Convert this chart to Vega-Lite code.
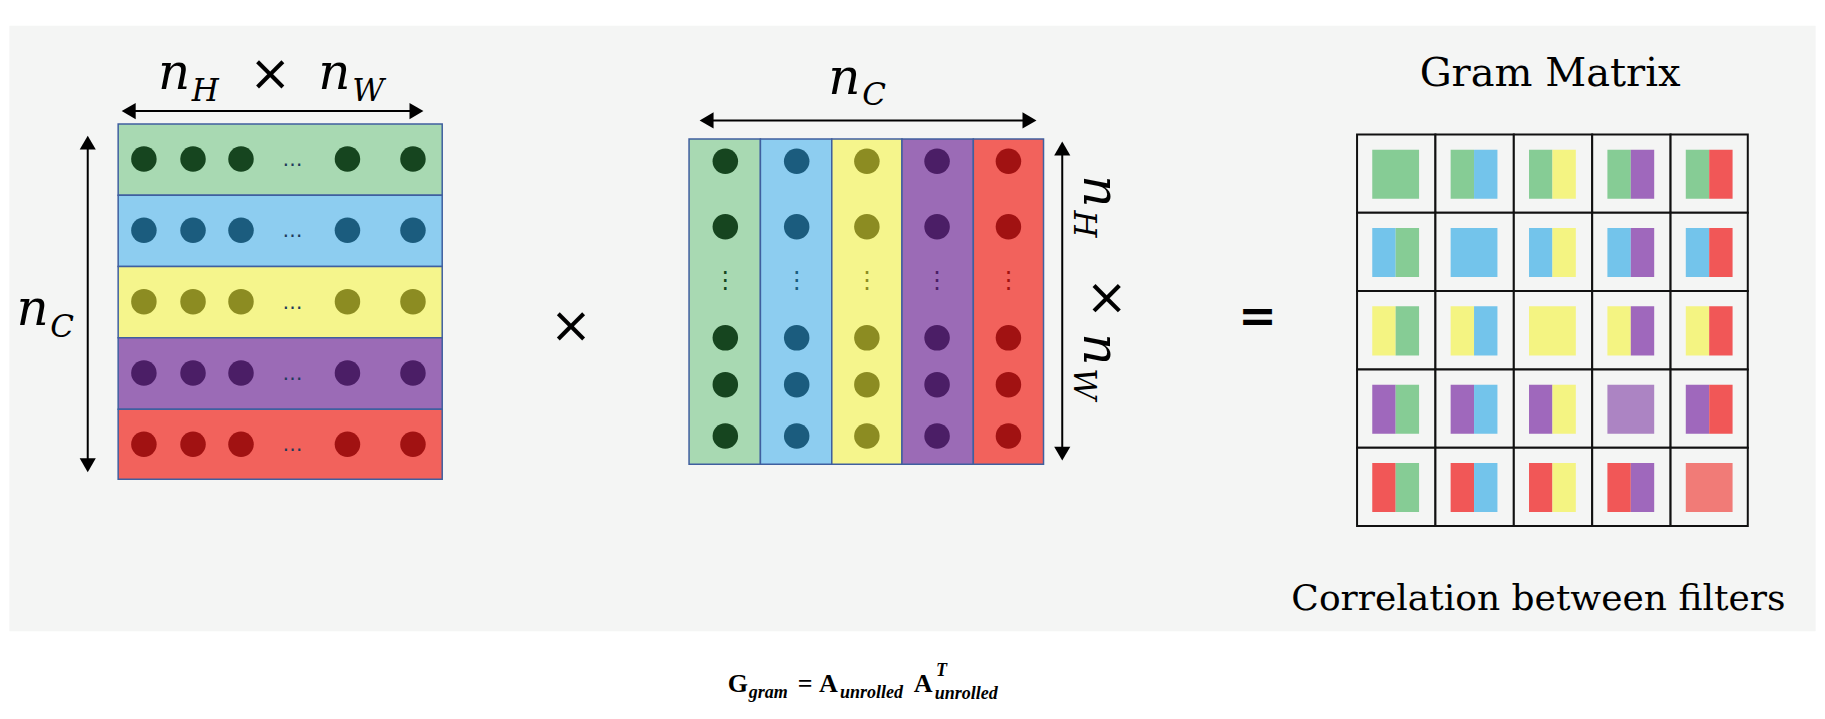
{
"$schema":"https://vega.github.io/schema/vega-lite/v6.json",
"width":1825,"height":719,"autosize":{"type":"fit","contains":"padding"},"padding":0,
"background":"white","config":{"view":{"stroke":null}},
"resolve":{"scale":{"fill":"independent","color":"independent","stroke":"independent","strokeWidth":"independent","shape":"independent"}},
"encoding":{
 "x":{"field":"x","type":"quantitative","scale":{"domain":[0,1560],"nice":false,"zero":false},"axis":null},
 "y":{"field":"y","type":"quantitative","scale":{"domain":[0,615],"nice":false,"zero":false,"reverse":true},"axis":null}
},
"layer":[
{"data":{"values":[{"x":8,"x2":1552,"y":22,"y2":540}]},"mark":{"type":"rect","fill":"#f4f5f4"},"encoding":{"x2":{"field":"x2"},"y2":{"field":"y2"}}},
{"data":{"values":[
 {"c":"green","x":101,"x2":378,"y":106,"y2":167},
 {"c":"blue","x":101,"x2":378,"y":167,"y2":228},
 {"c":"yellow","x":101,"x2":378,"y":228,"y2":289},
 {"c":"purple","x":101,"x2":378,"y":289,"y2":350},
 {"c":"red","x":101,"x2":378,"y":350,"y2":410},
 {"c":"green","x":589,"x2":650,"y":119,"y2":397},
 {"c":"blue","x":650,"x2":711,"y":119,"y2":397},
 {"c":"yellow","x":711,"x2":771,"y":119,"y2":397},
 {"c":"purple","x":771,"x2":832,"y":119,"y2":397},
 {"c":"red","x":832,"x2":892,"y":119,"y2":397}
]},"mark":{"type":"rect","stroke":"#3f5f9f","strokeWidth":1.5},
 "encoding":{"x2":{"field":"x2"},"y2":{"field":"y2"},
 "fill":{"field":"c","type":"nominal","legend":null,"scale":{"domain":["green","blue","yellow","purple","red"],"range":["#a8d9b2","#8dcdf0","#f5f58c","#9b6bb6","#f2625c"]}}}},
{"data":{"values":[
 {"x":1160,"x2":1227,"y":115,"y2":182},{"x":1227,"x2":1294,"y":115,"y2":182},{"x":1294,"x2":1361,"y":115,"y2":182},{"x":1361,"x2":1428,"y":115,"y2":182},{"x":1428,"x2":1494,"y":115,"y2":182},
 {"x":1160,"x2":1227,"y":182,"y2":249},{"x":1227,"x2":1294,"y":182,"y2":249},{"x":1294,"x2":1361,"y":182,"y2":249},{"x":1361,"x2":1428,"y":182,"y2":249},{"x":1428,"x2":1494,"y":182,"y2":249},
 {"x":1160,"x2":1227,"y":249,"y2":316},{"x":1227,"x2":1294,"y":249,"y2":316},{"x":1294,"x2":1361,"y":249,"y2":316},{"x":1361,"x2":1428,"y":249,"y2":316},{"x":1428,"x2":1494,"y":249,"y2":316},
 {"x":1160,"x2":1227,"y":316,"y2":383},{"x":1227,"x2":1294,"y":316,"y2":383},{"x":1294,"x2":1361,"y":316,"y2":383},{"x":1361,"x2":1428,"y":316,"y2":383},{"x":1428,"x2":1494,"y":316,"y2":383},
 {"x":1160,"x2":1227,"y":383,"y2":450},{"x":1227,"x2":1294,"y":383,"y2":450},{"x":1294,"x2":1361,"y":383,"y2":450},{"x":1361,"x2":1428,"y":383,"y2":450},{"x":1428,"x2":1494,"y":383,"y2":450}
]},"mark":{"type":"rect","fill":"#f4f5f4","stroke":"#111111","strokeWidth":2},
 "encoding":{"x2":{"field":"x2"},"y2":{"field":"y2"}}},
{"data":{"values":[
 {"c":"g","x":1173,"x2":1213,"y":128,"y2":170},
 {"c":"g","x":1240,"x2":1260,"y":128,"y2":170},{"c":"b","x":1260,"x2":1280,"y":128,"y2":170},
 {"c":"g","x":1307,"x2":1327,"y":128,"y2":170},{"c":"y","x":1327,"x2":1347,"y":128,"y2":170},
 {"c":"g","x":1374,"x2":1394,"y":128,"y2":170},{"c":"p","x":1394,"x2":1414,"y":128,"y2":170},
 {"c":"g","x":1441,"x2":1461,"y":128,"y2":170},{"c":"r","x":1461,"x2":1481,"y":128,"y2":170},
 {"c":"b","x":1173,"x2":1193,"y":195,"y2":237},{"c":"g","x":1193,"x2":1213,"y":195,"y2":237},
 {"c":"b","x":1240,"x2":1280,"y":195,"y2":237},
 {"c":"b","x":1307,"x2":1327,"y":195,"y2":237},{"c":"y","x":1327,"x2":1347,"y":195,"y2":237},
 {"c":"b","x":1374,"x2":1394,"y":195,"y2":237},{"c":"p","x":1394,"x2":1414,"y":195,"y2":237},
 {"c":"b","x":1441,"x2":1461,"y":195,"y2":237},{"c":"r","x":1461,"x2":1481,"y":195,"y2":237},
 {"c":"y","x":1173,"x2":1193,"y":262,"y2":304},{"c":"g","x":1193,"x2":1213,"y":262,"y2":304},
 {"c":"y","x":1240,"x2":1260,"y":262,"y2":304},{"c":"b","x":1260,"x2":1280,"y":262,"y2":304},
 {"c":"y","x":1307,"x2":1347,"y":262,"y2":304},
 {"c":"y","x":1374,"x2":1394,"y":262,"y2":304},{"c":"p","x":1394,"x2":1414,"y":262,"y2":304},
 {"c":"y","x":1441,"x2":1461,"y":262,"y2":304},{"c":"r","x":1461,"x2":1481,"y":262,"y2":304},
 {"c":"p","x":1173,"x2":1193,"y":329,"y2":371},{"c":"g","x":1193,"x2":1213,"y":329,"y2":371},
 {"c":"p","x":1240,"x2":1260,"y":329,"y2":371},{"c":"b","x":1260,"x2":1280,"y":329,"y2":371},
 {"c":"p","x":1307,"x2":1327,"y":329,"y2":371},{"c":"y","x":1327,"x2":1347,"y":329,"y2":371},
 {"c":"p2","x":1374,"x2":1414,"y":329,"y2":371},
 {"c":"p","x":1441,"x2":1461,"y":329,"y2":371},{"c":"r","x":1461,"x2":1481,"y":329,"y2":371},
 {"c":"r","x":1173,"x2":1193,"y":396,"y2":438},{"c":"g","x":1193,"x2":1213,"y":396,"y2":438},
 {"c":"r","x":1240,"x2":1260,"y":396,"y2":438},{"c":"b","x":1260,"x2":1280,"y":396,"y2":438},
 {"c":"r","x":1307,"x2":1327,"y":396,"y2":438},{"c":"y","x":1327,"x2":1347,"y":396,"y2":438},
 {"c":"r","x":1374,"x2":1394,"y":396,"y2":438},{"c":"p","x":1394,"x2":1414,"y":396,"y2":438},
 {"c":"r2","x":1441,"x2":1481,"y":396,"y2":438}
]},"mark":{"type":"rect","opacity":0.95},
 "encoding":{"x2":{"field":"x2"},"y2":{"field":"y2"},
 "fill":{"field":"c","type":"nominal","legend":null,"scale":{"domain":["g","b","y","p","r","p2","r2"],"range":["#7fc98f","#6bc1ea","#f3f37b","#9a60b8","#f04e4e","#a87dc0","#f07470"]}}}},
{"data":{"values":[
 {"c":"g","x":123,"y":136},{"c":"g","x":165,"y":136},{"c":"g","x":206,"y":136},{"c":"g","x":297,"y":136},{"c":"g","x":353,"y":136},
 {"c":"b","x":123,"y":197},{"c":"b","x":165,"y":197},{"c":"b","x":206,"y":197},{"c":"b","x":297,"y":197},{"c":"b","x":353,"y":197},
 {"c":"y","x":123,"y":258},{"c":"y","x":165,"y":258},{"c":"y","x":206,"y":258},{"c":"y","x":297,"y":258},{"c":"y","x":353,"y":258},
 {"c":"p","x":123,"y":319},{"c":"p","x":165,"y":319},{"c":"p","x":206,"y":319},{"c":"p","x":297,"y":319},{"c":"p","x":353,"y":319},
 {"c":"r","x":123,"y":380},{"c":"r","x":165,"y":380},{"c":"r","x":206,"y":380},{"c":"r","x":297,"y":380},{"c":"r","x":353,"y":380},
 {"c":"g","x":620,"y":138},{"c":"g","x":620,"y":194},{"c":"g","x":620,"y":289},{"c":"g","x":620,"y":329},{"c":"g","x":620,"y":373},
 {"c":"b","x":681,"y":138},{"c":"b","x":681,"y":194},{"c":"b","x":681,"y":289},{"c":"b","x":681,"y":329},{"c":"b","x":681,"y":373},
 {"c":"y","x":741,"y":138},{"c":"y","x":741,"y":194},{"c":"y","x":741,"y":289},{"c":"y","x":741,"y":329},{"c":"y","x":741,"y":373},
 {"c":"p","x":801,"y":138},{"c":"p","x":801,"y":194},{"c":"p","x":801,"y":289},{"c":"p","x":801,"y":329},{"c":"p","x":801,"y":373},
 {"c":"r","x":862,"y":138},{"c":"r","x":862,"y":194},{"c":"r","x":862,"y":289},{"c":"r","x":862,"y":329},{"c":"r","x":862,"y":373}
]},"mark":{"type":"point","shape":"circle","filled":true,"opacity":1,"size":650},
 "encoding":{"color":{"field":"c","type":"nominal","legend":null,"scale":{"domain":["g","b","y","p","r"],"range":["#16451f","#1b5c7e","#8c8c22","#4b1e66","#a11212"]}}}},
{"data":{"values":[{"x":250,"y":137,"t":"…"},{"x":250,"y":198,"t":"…"},{"x":250,"y":259,"t":"…"},{"x":250,"y":320,"t":"…"},{"x":250,"y":381,"t":"…"}]},
 "mark":{"type":"text","fontSize":20,"font":"DejaVu Sans","baseline":"middle","color":"#1f3a5a"},"encoding":{"text":{"field":"t"}}},
{"data":{"values":[{"x":620,"y":240,"t":"⋮","c":"g"},{"x":681,"y":240,"t":"⋮","c":"b"},{"x":741,"y":240,"t":"⋮","c":"y"},{"x":801,"y":240,"t":"⋮","c":"p"},{"x":862,"y":240,"t":"⋮","c":"r"}]},
 "mark":{"type":"text","fontSize":24,"font":"DejaVu Sans","baseline":"middle"},"encoding":{"text":{"field":"t"},
 "color":{"field":"c","type":"nominal","legend":null,"scale":{"domain":["g","b","y","p","r"],"range":["#16451f","#1b5c7e","#8c8c22","#4b1e66","#a11212"]}}}},
{"data":{"values":[{"x":110,"x2":356,"y":95},{"x":604,"x2":880,"y":103}]},"mark":{"type":"rule","color":"black","strokeWidth":2},"encoding":{"x2":{"field":"x2"}}},
{"data":{"values":[{"x":75,"y":122,"y2":398},{"x":908,"y":127,"y2":388}]},"mark":{"type":"rule","color":"black","strokeWidth":2},"encoding":{"y2":{"field":"y2"}}},
{"data":{"values":[{"x":110,"y":95,"s":"triangle-left"},{"x":356,"y":95,"s":"triangle-right"},{"x":604,"y":103,"s":"triangle-left"},{"x":880,"y":103,"s":"triangle-right"},{"x":75,"y":122,"s":"triangle-up"},{"x":75,"y":398,"s":"triangle-down"},{"x":908,"y":127,"s":"triangle-up"},{"x":908,"y":388,"s":"triangle-down"}]},
 "mark":{"type":"point","filled":true,"color":"black","opacity":1,"size":260},"encoding":{"shape":{"field":"s","type":"nominal","legend":null,"scale":null}}},
{"data":{"values":[{"x":135,"y":76,"t":"n"},{"x":272,"y":76,"t":"n"},{"x":708,"y":80,"t":"n"},{"x":14,"y":278,"t":"n"}]},
 "mark":{"type":"text","font":"DejaVu Serif","fontStyle":"italic","fontSize":50,"align":"left","baseline":"alphabetic","color":"black"},"encoding":{"text":{"field":"t"}}},
{"data":{"values":[{"x":164,"y":86,"t":"H"},{"x":301,"y":86,"t":"W"},{"x":737,"y":90,"t":"C"},{"x":43,"y":288,"t":"C"}]},
 "mark":{"type":"text","font":"DejaVu Serif","fontStyle":"italic","fontSize":31,"align":"left","baseline":"alphabetic","color":"black"},"encoding":{"text":{"field":"t"}}},
{"data":{"values":[{"x":231,"y":64,"t":"×"},{"x":488,"y":280,"t":"×"}]},
 "mark":{"type":"text","font":"DejaVu Sans","fontSize":50,"align":"center","baseline":"middle","color":"black"},"encoding":{"text":{"field":"t"}}},
{"data":{"values":[{"x":1075,"y":272,"t":"="}]},
 "mark":{"type":"text","font":"DejaVu Sans","fontWeight":"bold","fontSize":46,"align":"center","baseline":"middle","color":"black"},"encoding":{"text":{"field":"t"}}},
{"data":{"values":[{"x":927,"y":150,"t":"n"},{"x":927,"y":285,"t":"n"}]},
 "mark":{"type":"text","font":"DejaVu Serif","fontStyle":"italic","fontSize":50,"angle":90,"align":"left","baseline":"alphabetic","color":"black"},"encoding":{"text":{"field":"t"}}},
{"data":{"values":[{"x":918,"y":180,"t":"H"},{"x":918,"y":315,"t":"W"}]},
 "mark":{"type":"text","font":"DejaVu Serif","fontStyle":"italic","fontSize":31,"angle":90,"align":"left","baseline":"alphabetic","color":"black"},"encoding":{"text":{"field":"t"}}},
{"data":{"values":[{"x":945,"y":255,"t":"×"}]},
 "mark":{"type":"text","font":"DejaVu Sans","fontSize":50,"angle":90,"align":"center","baseline":"middle","color":"black"},"encoding":{"text":{"field":"t"}}},
{"data":{"values":[{"x":1325,"y":63,"t":"Gram Matrix"}]},
 "mark":{"type":"text","font":"DejaVu Serif","fontSize":40,"align":"center","baseline":"middle","color":"black"},"encoding":{"text":{"field":"t"}}},
{"data":{"values":[{"x":1315,"y":512,"t":"Correlation between filters"}]},
 "mark":{"type":"text","font":"DejaVu Serif","fontSize":36,"align":"center","baseline":"middle","color":"black"},"encoding":{"text":{"field":"t"}}},
{"data":{"values":[{"x":622,"y":592,"t":"G"},{"x":682,"y":592,"t":"="},{"x":700,"y":592,"t":"A"},{"x":781,"y":592,"t":"A"}]},
 "mark":{"type":"text","font":"Liberation Serif","fontWeight":"bold","fontSize":26,"align":"left","baseline":"alphabetic","color":"black"},"encoding":{"text":{"field":"t"}}},
{"data":{"values":[{"x":640,"y":597,"t":"gram"},{"x":718,"y":597,"t":"unrolled"},{"x":799,"y":598,"t":"unrolled"},{"x":800,"y":578,"t":"T"}]},
 "mark":{"type":"text","font":"Liberation Serif","fontWeight":"bold","fontStyle":"italic","fontSize":18,"align":"left","baseline":"alphabetic","color":"black"},"encoding":{"text":{"field":"t"}}}
]}
